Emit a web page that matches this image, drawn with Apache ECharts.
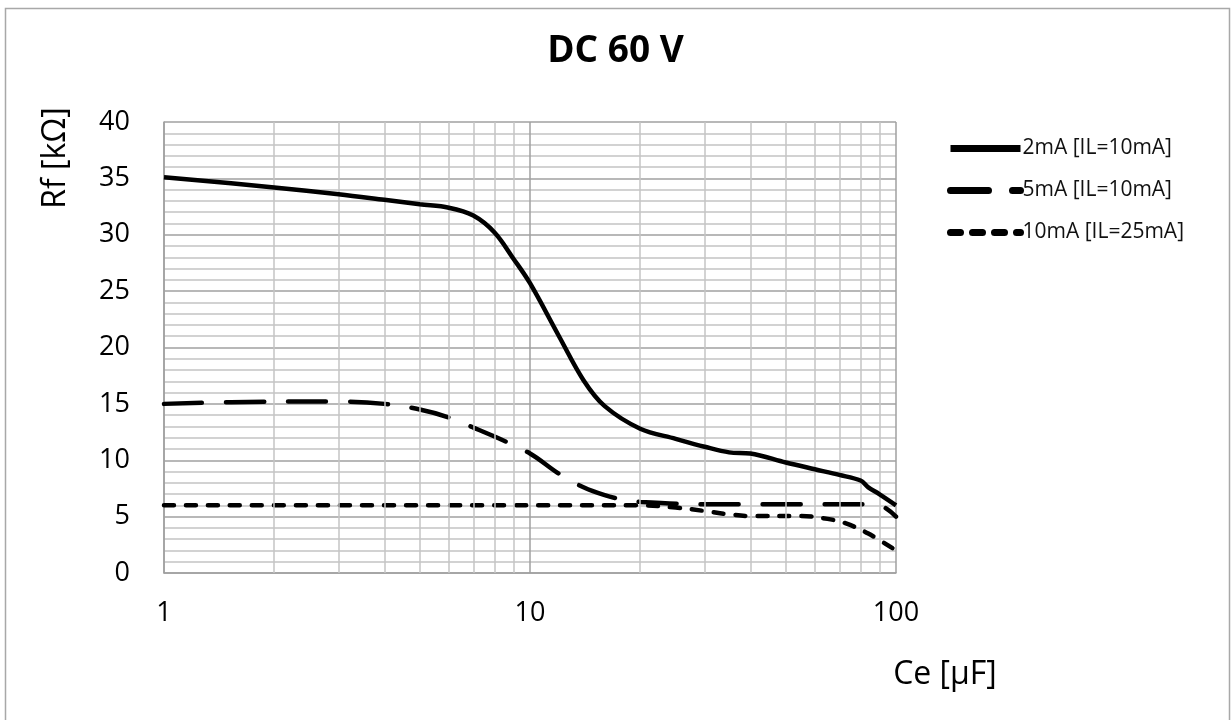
<!DOCTYPE html>
<html>
<head>
<meta charset="utf-8">
<script src="https://cdn.jsdelivr.net/npm/echarts@6/dist/echarts.min.js"></script>
<style>
html,body{margin:0;padding:0;background:#fff;}
#chart{width:1231px;height:720px;}
</style>
</head>
<body>
<div id="chart"></div>
<script>
// ---- data ----
const titleText = 'DC 60 V';
const seriesNames = ['2mA [IL=10mA]', '5mA [IL=10mA]', '10mA [IL=25mA]'];
const s1 = [[1,35.1],[2,34.2],[3,33.6],[4,33.1],[5,32.7],[6,32.4],[7,31.7],[8,30.2],[9,27.9],[10,25.7],[12,21],[14,17.1],[16,14.8],[20,12.8],[25,11.9],[30,11.2],[35,10.7],[40,10.6],[50,9.8],[60,9.2],[70,8.7],[80,8.2],[84,7.6],[90,7.0],[100,6.0]];
const s2 = [[1,15.0],[2,15.2],[3,15.2],[4,15.0],[5,14.5],[6,13.8],[7,12.9],[8,12.1],[10,10.6],[12,8.8],[14,7.6],[16,6.9],[18,6.5],[20,6.3],[30,6.1],[50,6.1],[88,6.1],[100,5.0]];
const s3 = [[1,6.0],[10,6.0],[20,6.0],[25,5.8],[30,5.5],[35,5.2],[40,5.05],[55,5.05],[65,4.8],[73,4.4],[84,3.5],[100,2.0]];
const xMinorGrid = [2,3,4,5,6,7,8,9,20,30,40,50,60,70,80,90];
const xRange = [1, 100];
const yRange = [0, 40];
const yInterval = 5;
const xAxisName = 'Ce [µF]';
const yAxisName = 'Rf [kΩ]';

const FONT = '"Open Sans", Lato, sans-serif';
const chart = echarts.init(document.getElementById('chart'), null, {renderer:'canvas'});
const option = {
  animation: false,
  backgroundColor: '#fff',
  title: {
    text: titleText, left: 'center', top: 28,
    textStyle: {fontFamily: FONT, fontSize: 37, fontWeight: 'bold', color: '#000'}
  },
  graphic: [
    {type:'rect', shape:{x:5.5,y:8.5,width:1224,height:720}, style:{fill:'none', stroke:'#a8a8a8', lineWidth:1.5}, silent:true},
    {type:'text', x:56, y:158, rotation:Math.PI/2, style:{text:yAxisName, fontFamily:FONT, fontSize:32, fill:'#000', textAlign:'center', textVerticalAlign:'middle'}},
    {type:'text', x:945, y:675, style:{text:xAxisName, fontFamily:FONT, fontSize:32, fill:'#000', textAlign:'center', textVerticalAlign:'middle'}}
  ],
  legend: {
    orient: 'vertical', left: 942, top: 133,
    itemWidth: 70, itemHeight: 14, itemGap: 21,
    data: seriesNames,
    textStyle: {fontFamily: FONT, fontSize: 21, color: '#111', padding:[0,0,0,-3]},
    lineStyle: {width: 7},
    itemStyle: {opacity: 0}
  },
  grid: {left: 164, right: 335, top: 122, bottom: 147},
  xAxis: {
    type: 'log', logBase: 10, min: xRange[0], max: xRange[1],
    axisLine: {show: true, lineStyle: {color: '#a0a0a0', width: 1.5}},
    axisTick: {show: false},
    axisLabel: {fontFamily: FONT, fontSize: 27, color: '#000', margin: 27},
    splitLine: {show: true, lineStyle: {color: '#a0a0a0', width: 1.5}},
    minorTick: {show: false}
  },
  yAxis: {
    type: 'value', min: yRange[0], max: yRange[1], interval: yInterval,
    axisLine: {show: true, lineStyle: {color: '#a0a0a0', width: 1.5}},
    axisTick: {show: false},
    axisLabel: {fontFamily: FONT, fontSize: 27, color: '#000', margin: 34},
    splitLine: {show: true, lineStyle: {color: '#a0a0a0', width: 1.5}},
    minorTick: {show: false, splitNumber: 5},
    minorSplitLine: {show: true, lineStyle: {color: '#c4c4c4', width: 1.5}}
  },
  series: [
    {
      name: 'grid', type: 'line', data: [], z: 1, silent: true,
      markLine: {
        silent: true, symbol: ['none','none'], animation: false,
        label: {show: false},
        lineStyle: {color: '#c4c4c4', width: 1.5, type: 'solid'},
        data: xMinorGrid.map(v => ({xAxis: v}))
      }
    },
    {
      name: seriesNames[0], type: 'line', data: s1, smooth: 0.35, showSymbol: false, symbol: 'none', z: 5,
      lineStyle: {color: '#000', width: 4.5, type: 'solid'}, itemStyle: {color: '#000'}
    },
    {
      name: seriesNames[1], type: 'line', data: s2, smooth: 0.35, showSymbol: false, symbol: 'none', z: 4,
      lineStyle: {color: '#000', width: 4.5, type: [38, 24], cap: 'round'}, itemStyle: {color: '#000'}
    },
    {
      name: seriesNames[2], type: 'line', data: s3, smooth: 0.35, showSymbol: false, symbol: 'none', z: 3,
      lineStyle: {color: '#000', width: 4.5, type: [10, 12], cap: 'round'}, itemStyle: {color: '#000'}
    }
  ]
};
chart.setOption(option);
</script>
</body>
</html>
